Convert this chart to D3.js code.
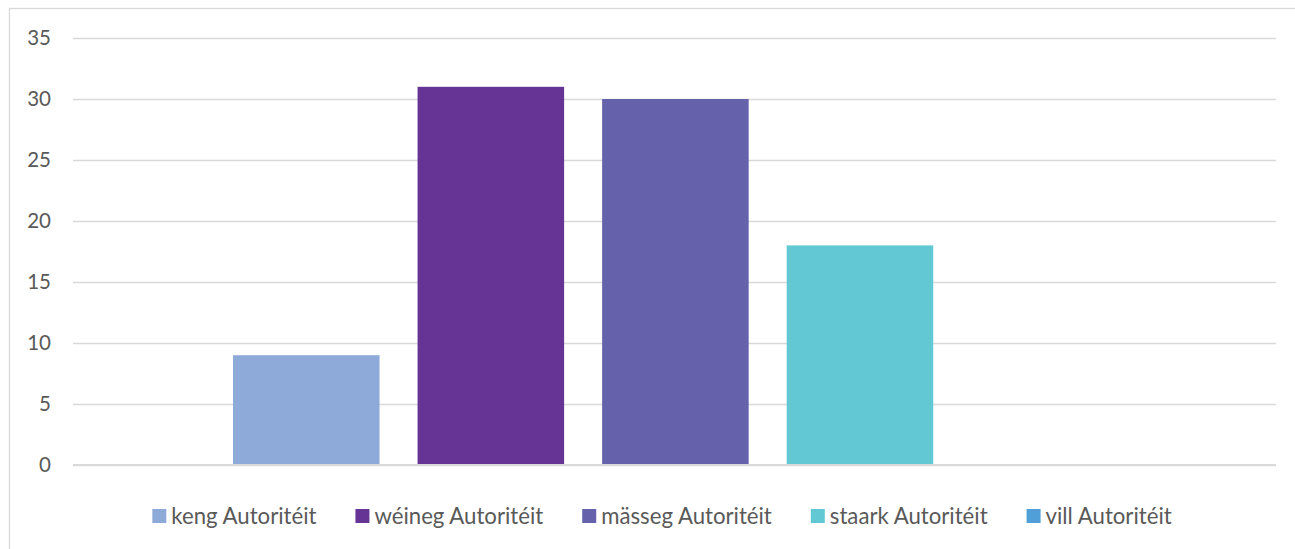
<!DOCTYPE html>
<html>
<head>
<meta charset="utf-8">
<script src="https://cdn.jsdelivr.net/npm/d3@7/dist/d3.min.js"></script>
<style>
  html, body { margin: 0; padding: 0; background: #fff; }
  svg { display: block; }
  text { font-family: Lato, "Open Sans", sans-serif; fill: #595959; }
</style>
</head>
<body>
<svg id="chart" width="1295" height="549"></svg>
<script>
// ---- data ----
const categories = ["Autoritéit"];
const seriesNames = ["keng Autoritéit", "wéineg Autoritéit", "mässeg Autoritéit", "staark Autoritéit", "vill Autoritéit"];
const seriesValues = [9, 31, 30, 18, 0];
const seriesColors = ["#8eaad8", "#663495", "#6561ab", "#62c8d3", "#519fd8"];
const yTicks = [0, 5, 10, 15, 20, 25, 30, 35];

// ---- layout ----
const W = 1295, H = 549;
const plot = { left: 73, right: 1276, top: 38, bottom: 465 };
const svg = d3.select("#chart");

// chart border (right/bottom edges fall outside the view)
svg.append("rect")
  .attr("x", 9.5).attr("y", 8.5)
  .attr("width", W + 20).attr("height", H + 20)
  .attr("fill", "none").attr("stroke", "#d9d9d9").attr("stroke-width", 1.3);

const y = d3.scaleLinear().domain([0, 35]).range([plot.bottom, plot.top]);
const x0 = d3.scaleBand().domain(categories).range([plot.left, plot.right]).padding(0);
const bw = x0.bandwidth();
const x1 = d3.scaleBand().domain(seriesNames)
  .range([x0(categories[0]) + bw * 0.133, x0(categories[0]) + bw * (1 - 0.1315)])
  .paddingInner(0.206).paddingOuter(0);

// gridlines
const yAxis = d3.axisLeft(y).tickValues(yTicks).tickSize(-(plot.right - plot.left)).tickPadding(22).tickFormat(d3.format("d"));
const gAxis = svg.append("g").attr("transform", `translate(${plot.left},0)`).call(yAxis);
gAxis.select(".domain").remove();
gAxis.selectAll(".tick line").attr("stroke", "#d9d9d9").attr("stroke-width", 1.3);
gAxis.selectAll(".tick text")
  .attr("font-size", 20.5).attr("fill", "#595959")
  .attr("font-family", "Lato, 'Open Sans', sans-serif");

// bars
svg.append("g").selectAll("rect")
  .data(seriesNames.map((n, i) => ({ name: n, value: seriesValues[i], color: seriesColors[i] })))
  .join("rect")
  .attr("x", d => x1(d.name))
  .attr("y", d => y(d.value))
  .attr("width", x1.bandwidth())
  .attr("height", d => y(0) - y(d.value))
  .attr("fill", d => d.color);

// zero axis line
svg.append("line")
  .attr("x1", plot.left).attr("x2", plot.right)
  .attr("y1", y(0)).attr("y2", y(0))
  .attr("stroke", "#d9d9d9").attr("stroke-width", 2);

// legend
const legend = svg.append("g");
const items = legend.selectAll("g").data(seriesNames).join("g");
items.append("rect").attr("width", 14).attr("height", 14).attr("y", 509)
  .attr("fill", (d, i) => seriesColors[i]);
items.append("text").text(d => d).attr("x", 19).attr("y", 516).attr("dy", "0.36em")
  .attr("font-size", 22.2);
const gap = 39;
const widths = [];
items.each(function () {
  const tw = d3.select(this).select("text").node().getComputedTextLength();
  widths.push(19 + tw);
});
const total = d3.sum(widths) + gap * (widths.length - 1);
let start = 662 - total / 2;
items.attr("transform", (d, i) => {
  const t = `translate(${start},0)`;
  start += widths[i] + gap;
  return t;
});
</script>
</body>
</html>
